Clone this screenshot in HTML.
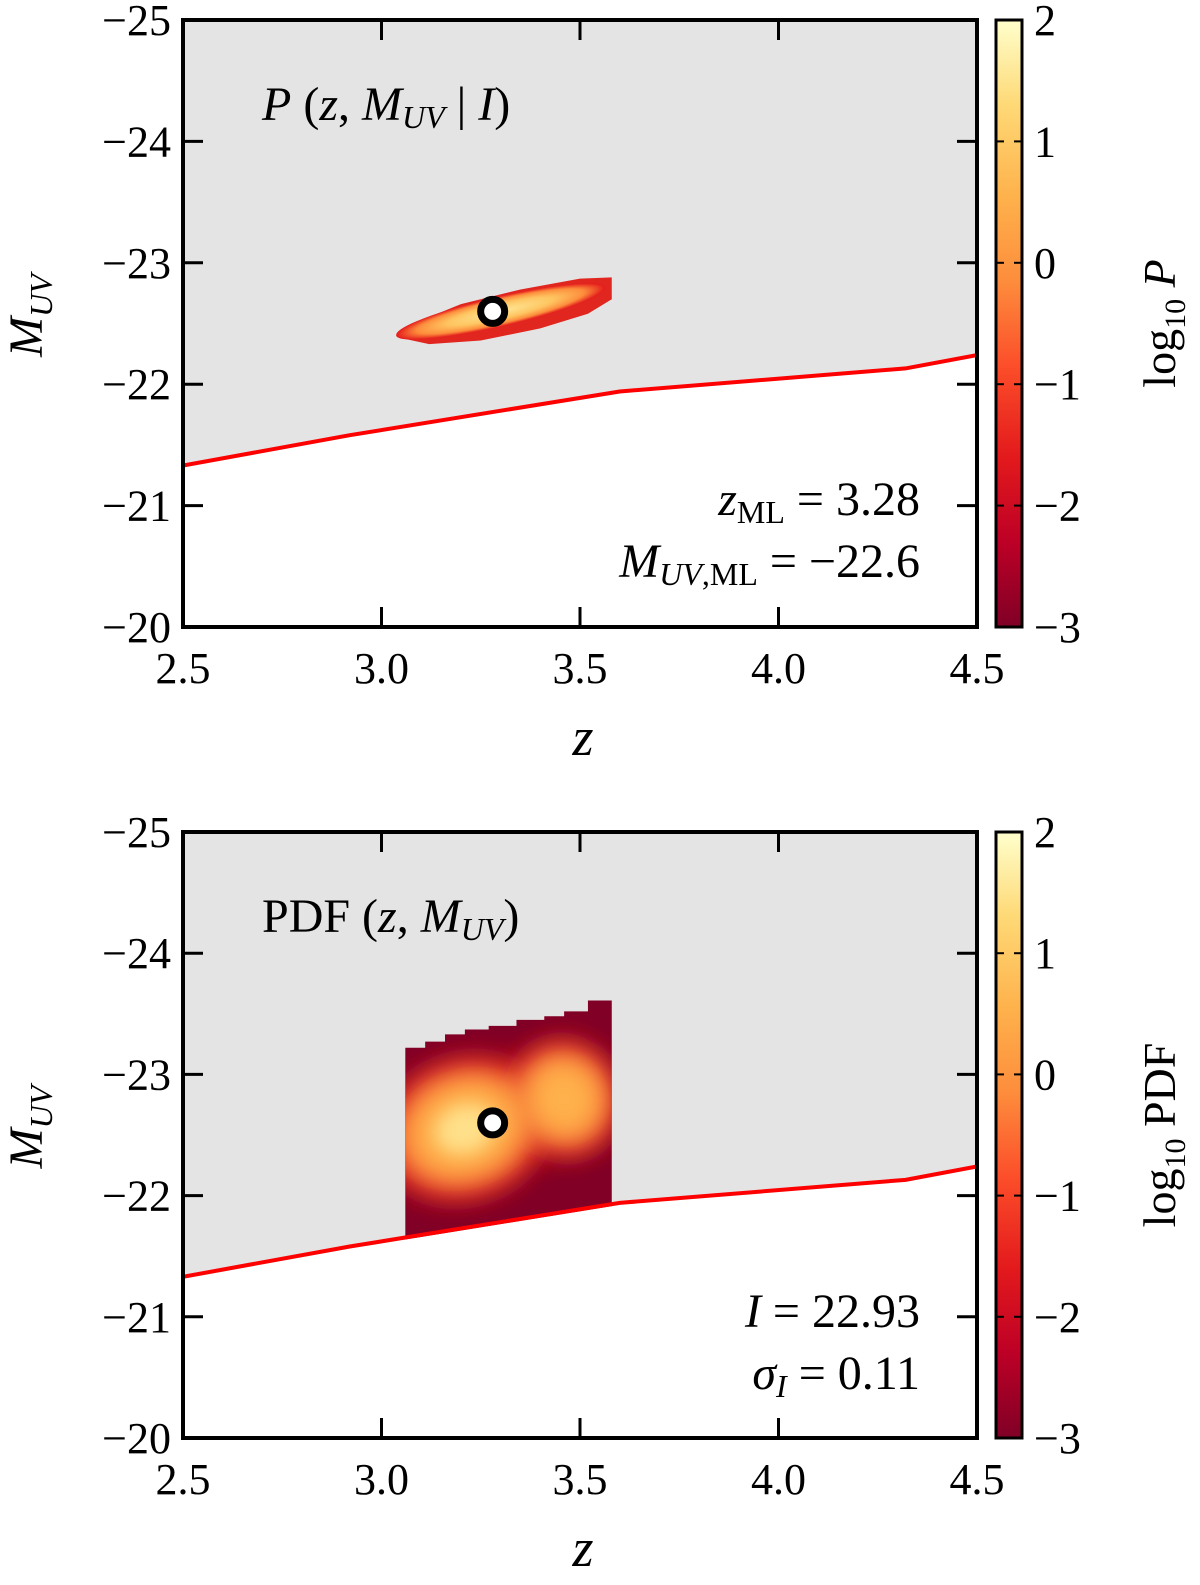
<!DOCTYPE html>
<html><head><meta charset="utf-8">
<style>
html,body{margin:0;padding:0;background:#fff;}
svg text{font-family:"Liberation Serif","DejaVu Serif",serif;fill:#000;}
</style></head>
<body>
<svg id="fig" width="1200" height="1580" viewBox="0 0 1200 1580" xmlns="http://www.w3.org/2000/svg">
<defs>
<linearGradient id="cmap" x1="0" y1="1" x2="0" y2="0">
<stop offset="0" stop-color="#800026"/>
<stop offset="0.14" stop-color="#bd0026"/>
<stop offset="0.28" stop-color="#e31a1c"/>
<stop offset="0.43" stop-color="#fc4e2a"/>
<stop offset="0.57" stop-color="#fd8d3c"/>
<stop offset="0.71" stop-color="#feb24c"/>
<stop offset="0.86" stop-color="#fed976"/>
<stop offset="1" stop-color="#ffffcc"/>
</linearGradient>
<radialGradient id="stripG">
<stop offset="0" stop-color="#ffe594"/>
<stop offset="0.5" stop-color="#fec561"/>
<stop offset="0.8" stop-color="#fd8d3c"/>
<stop offset="1" stop-color="#e31a1c"/>
</radialGradient>
<filter id="blur1" x="-50%" y="-50%" width="200%" height="200%"><feGaussianBlur stdDeviation="14"/></filter>
<filter id="blur2" x="-50%" y="-50%" width="200%" height="200%"><feGaussianBlur stdDeviation="9"/></filter>
<clipPath id="clipTop"><rect x="183" y="20" width="794" height="607"/></clipPath>
<clipPath id="clipBot"><rect x="183" y="832" width="794" height="606"/></clipPath>
<clipPath id="clipPdf"><polygon id="pdfClipPoly" points="0,0"/></clipPath>
</defs>
<g id="panels"></g>
</svg>
<script>
// data
const xTicks = [2.5, 3.0, 3.5, 4.0, 4.5];
const yTicks = [-25, -24, -23, -22, -21, -20];
const cbTicks = [2, 1, 0, -1, -2, -3];
const lineZ = [2.5, 2.92, 3.6, 4.32, 4.5];
const lineM = [-21.33, -21.58, -21.94, -22.13, -22.24];
const mlZ = 3.28, mlM = -22.6;
// top strip outline
const stripZ = [3.05, 3.12, 3.25, 3.4, 3.52, 3.58, 3.58, 3.5, 3.35, 3.2, 3.08, 3.05];
const stripM = [-22.38, -22.33, -22.36, -22.46, -22.58, -22.7, -22.88, -22.87, -22.78, -22.66, -22.5, -22.42];
// bottom PDF region
const pdfStepZ = [3.06, 3.11, 3.16, 3.21, 3.27, 3.34, 3.41, 3.46, 3.52, 3.58];
const pdfStepM = [-23.22, -23.27, -23.33, -23.37, -23.40, -23.45, -23.48, -23.52, -23.61, -23.67];
const blobZ = [3.21, 3.46];
const blobM = [-22.55, -22.8];
const blobRz = [0.19, 0.12];
const blobRm = [0.5, 0.42];

const NS = "http://www.w3.org/2000/svg";
const root = document.getElementById('panels');
function mk(tag, attrs, parent){const e=document.createElementNS(NS,tag);for(const k in attrs)e.setAttribute(k,attrs[k]);(parent||root).appendChild(e);return e;}

const X0=183, X1=977;
function xs(z){return X0+(z-2.5)/(4.5-2.5)*(X1-X0);}

function panel(top, bottom, name, isTop){
  const g = mk('g',{});
  
  
  const ys = m => top + (m-(-25))/5*(bottom-top);
  const clip = isTop ? 'url(#clipTop)' : 'url(#clipBot)';
  const bg = mk('rect',{x:X0,y:top,width:X1-X0,height:bottom-top,fill:'#e4e4e4'},g);
  
  
  let pts = lineZ.map((z,i)=>xs(z)+','+ys(lineM[i])).join(' ');
  const wr = mk('polygon',{points:pts+' '+X1+','+bottom+' '+X0+','+bottom,fill:'#fff','clip-path':clip},g);
  
  
  const lineY = z => {for(let i=0;i<lineZ.length-1;i++){if(z<=lineZ[i+1]){const t=(z-lineZ[i])/(lineZ[i+1]-lineZ[i]);return lineM[i]+t*(lineM[i+1]-lineM[i]);}}return lineM[lineM.length-1];};
  if(isTop){
    const sp = stripZ.map((z,i)=>xs(z)+','+ys(stripM[i])).join(' ');
    const s1 = mk('polygon',{points:sp,fill:'#e0261f'},g);
    
    
    const cx=xs(3.3), cy=ys(-22.6);
    const s2 = mk('ellipse',{cx:cx,cy:cy,rx:(xs(3.58)-xs(3.04))/2,ry:15,fill:'url(#stripG)',transform:'rotate(-13 '+cx+' '+cy+')'},g);
    
    
  } else {
    let p = [];
    pdfStepZ.forEach((z,i)=>{p.push(xs(z)+','+ys(pdfStepM[i])); if(i<pdfStepZ.length-1)p.push(xs(pdfStepZ[i+1])+','+ys(pdfStepM[i]));});
    const zr=pdfStepZ[pdfStepZ.length-1], zl=pdfStepZ[0];
    p.push(xs(zr)+','+(ys(lineY(zr))+2));
    p.push(xs(zl)+','+(ys(lineY(zl))+2));
    const pr = mk('polygon',{points:p.join(' '),fill:'#800026'},g);
    
    
    document.getElementById('pdfClipPoly').setAttribute('points', p.join(' '));
    const bg2 = mk('g',{'clip-path':'url(#clipPdf)'},g);
    
    
    const layers = [[1.15,'#d7191c','blur1'],[0.95,'#fd8d3c','blur1'],[0.7,'#feb24c','blur1'],[0.4,'#ffe08a','blur2']];
    layers.forEach(L=>{
      for(let i=0;i<blobZ.length;i++){
        const cx=xs(blobZ[i]), cy=ys(blobM[i]);
        const s = (i===1 && L[0]<0.5) ? 0 : L[0];
        if(!s) continue;
        const e = mk('ellipse',{cx:cx,cy:cy,rx:(xs(blobZ[i]+blobRz[i])-cx)*s,ry:(ys(blobM[i]+blobRm[i])-cy)*s,fill:L[1],filter:'url(#'+L[2]+')',transform:'rotate(-20 '+cx+' '+cy+')'},bg2);
        
        
      }
    });
  }
  const ln = mk('polyline',{points:pts,fill:'none',stroke:'#ff0000','stroke-width':4,'clip-path':clip},g);
  
  
  const mo = mk('circle',{cx:xs(mlZ),cy:ys(mlM),r:12,fill:'#fff',stroke:'#000','stroke-width':7},g);
  
  
  xTicks.forEach(v=>{
    const x=xs(v);
    const t1 = mk('line',{x1:x,y1:bottom,x2:x,y2:bottom-20,stroke:'#000','stroke-width':3},g);
    
    
    mk('line',{x1:x,y1:top,x2:x,y2:top+20,stroke:'#000','stroke-width':3},g);
    const tl = mk('text',{x:x,y:bottom+56,'font-size':44,'text-anchor':'middle'},g);
    tl.textContent = v.toFixed(1);
    
    
  });
  yTicks.forEach(v=>{
    const y=ys(v);
    const t1 = mk('line',{x1:X0,y1:y,x2:X0+20,y2:y,stroke:'#000','stroke-width':3},g);
    
    
    mk('line',{x1:X1,y1:y,x2:X1-20,y2:y,stroke:'#000','stroke-width':3},g);
    const tl = mk('text',{x:X0-12,y:y+15,'font-size':44,'text-anchor':'end'},g);
    tl.textContent = '\u2212'+Math.abs(v);
    
    
  });
  const fr = mk('rect',{x:X0,y:top,width:X1-X0,height:bottom-top,fill:'none',stroke:'#000','stroke-width':4},g);
  
  
  const cb = mk('rect',{x:996,y:top,width:26,height:bottom-top,fill:'url(#cmap)',stroke:'#000','stroke-width':3},g);
  
  
  cbTicks.forEach(v=>{
    const y = top + (2-v)/5*(bottom-top);
    mk('line',{x1:1022,y1:y,x2:1014,y2:y,stroke:'#000','stroke-width':2},g);
    mk('line',{x1:996,y1:y,x2:1004,y2:y,stroke:'#000','stroke-width':2},g);
    const tl = mk('text',{x:1034,y:y+15,'font-size':44},g);
    tl.textContent = v<0?'\u2212'+Math.abs(v):String(v);
    
    
  });
  const xl = mk('text',{x:583,y:bottom+128,'font-size':54,'font-style':'italic','text-anchor':'middle'},g);
  xl.textContent='z';
  
  
  const ycy=(top+bottom)/2;
  const yl = mk('text',{x:0,y:0,'font-size':48,'font-style':'italic','text-anchor':'middle',transform:'translate(42 '+(ycy-8)+') rotate(-90)'},g);
  yl.innerHTML='M<tspan font-size="32" dy="10">UV</tspan>';
  
  
  const cl = mk('text',{x:0,y:0,'font-size':46,'text-anchor':'middle',transform:'translate(1175 '+ycy+') rotate(-90)'},g);
  cl.innerHTML = isTop ? 'log<tspan font-size="30" dy="10">10</tspan><tspan dy="-10" font-style="italic"> P</tspan>' : 'log<tspan font-size="30" dy="10">10</tspan><tspan dy="-10"> PDF</tspan>';
  
  
  const t = mk('text',{x:262,y:top+100,'font-size':48},g);
  t.innerHTML = isTop ? '<tspan font-style="italic">P</tspan> (<tspan font-style="italic">z</tspan>, <tspan font-style="italic">M</tspan><tspan font-size="32" dy="8" font-style="italic">UV</tspan><tspan dy="-8"> | </tspan><tspan font-style="italic">I</tspan>)' : 'PDF (<tspan font-style="italic">z</tspan>, <tspan font-style="italic">M</tspan><tspan font-size="32" dy="8" font-style="italic">UV</tspan><tspan dy="-8">)</tspan>';
  
  
  const a1 = mk('text',{x:920,y:top+495,'font-size':48,'text-anchor':'end'},g);
  a1.innerHTML = isTop ? '<tspan font-style="italic">z</tspan><tspan font-size="32" dy="8">ML</tspan><tspan dy="-8"> = 3.28</tspan>' : '<tspan font-style="italic">I</tspan> = 22.93';
  
  
  const a2 = mk('text',{x:920,y:top+557,'font-size':48,'text-anchor':'end'},g);
  a2.innerHTML = isTop ? '<tspan font-style="italic">M</tspan><tspan font-size="32" dy="8"><tspan font-style="italic">UV</tspan>,ML</tspan><tspan dy="-8"> = \u221222.6</tspan>' : '<tspan font-style="italic">\u03c3</tspan><tspan font-size="32" dy="8" font-style="italic">I</tspan><tspan dy="-8"> = 0.11</tspan>';
  
  
}
panel(20, 627, 'likelihood-panel', true);
panel(832, 1438, 'pdf-panel', false);
</script>
</body></html>
